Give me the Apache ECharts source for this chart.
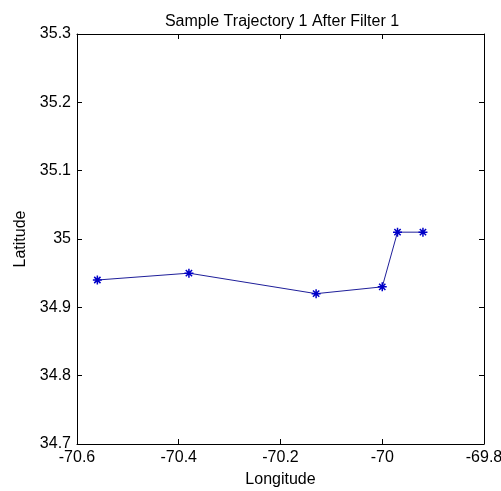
<!DOCTYPE html>
<html><head><meta charset="utf-8">
<script src="https://cdn.jsdelivr.net/npm/echarts@6/dist/echarts.min.js"></script>
<style>html,body{margin:0;padding:0;background:#fff}#c{width:501px;height:491px}</style>
</head><body><div id="c"></div>
<script>
const titleText = 'Sample Trajectory 1 After Filter 1';
const xName = 'Longitude';
const yName = 'Latitude';
const longitude = [-70.56, -70.38, -70.13, -70.00, -69.97, -69.92];
const latitude = [34.94, 34.95, 34.92, 34.93, 35.01, 35.01];
const xTicks = [-70.6, -70.4, -70.2, -70, -69.8];
const yTicks = [34.7, 34.8, 34.9, 35, 35.1, 35.2, 35.3];

const font = 'Liberation Sans, Arial, sans-serif';
const fs = 16;
const fmt = v => String(parseFloat(Number(v).toFixed(1)));
const chart = echarts.init(document.getElementById('c'));
const axisCommon = {
  axisLine: {show: true, onZero: false, lineStyle: {color: '#000', width: 1}},
  axisTick: {show: true, inside: true, length: 5, lineStyle: {color: '#000'}},
  splitLine: {show: false}
};
chart.setOption({
  animation: false,
  backgroundColor: '#fff',
  title: {text: titleText, left: 277, top: 9, textAlign: 'center',
    textStyle: {fontFamily: font, fontSize: fs, fontWeight: 'normal', color: '#000'}},
  grid: {left: 77, right: 17, top: 34, bottom: 47, containLabel: false, outerBoundsMode: 'none'},
  xAxis: [
    Object.assign({type: 'value', position: 'bottom', min: xTicks[0], max: xTicks[xTicks.length-1], interval: 0.2,
      name: xName, nameLocation: 'middle', nameGap: 28,
      nameTextStyle: {fontFamily: font, fontSize: fs, color: '#000'},
      axisLabel: {formatter: fmt, margin: 6, fontFamily: font, fontSize: fs, color: '#000', showMinLabel: true, showMaxLabel: true}}, axisCommon),
    Object.assign({type: 'value', position: 'top', min: xTicks[0], max: xTicks[xTicks.length-1], interval: 0.2,
      axisLabel: {show: false}}, axisCommon)
  ],
  yAxis: [
    Object.assign({type: 'value', position: 'left', min: yTicks[0], max: yTicks[yTicks.length-1], interval: 0.1,
      name: yName, nameLocation: 'middle', nameGap: 44,
      nameTextStyle: {fontFamily: font, fontSize: fs, color: '#000'},
      axisLabel: {formatter: fmt, margin: 6, fontFamily: font, fontSize: fs, color: '#000', showMinLabel: true, showMaxLabel: true}}, axisCommon),
    Object.assign({type: 'value', position: 'right', min: yTicks[0], max: yTicks[yTicks.length-1], interval: 0.1,
      axisLabel: {show: false}}, axisCommon)
  ],
  series: [{
    type: 'line',
    data: longitude.map((x, i) => [x, latitude[i]]),
    lineStyle: {color: '#1f1f9a', width: 1},
    symbol: 'path://M0,-5L0,5M-5,0L5,0M-3.5,-3.5L3.5,3.5M-3.5,3.5L3.5,-3.5',
    symbolSize: 9,
    itemStyle: {color: 'rgba(0,0,0,0)', borderColor: '#0000c8', borderWidth: 1.5},
    showSymbol: true
  }]
});
</script></body></html>
